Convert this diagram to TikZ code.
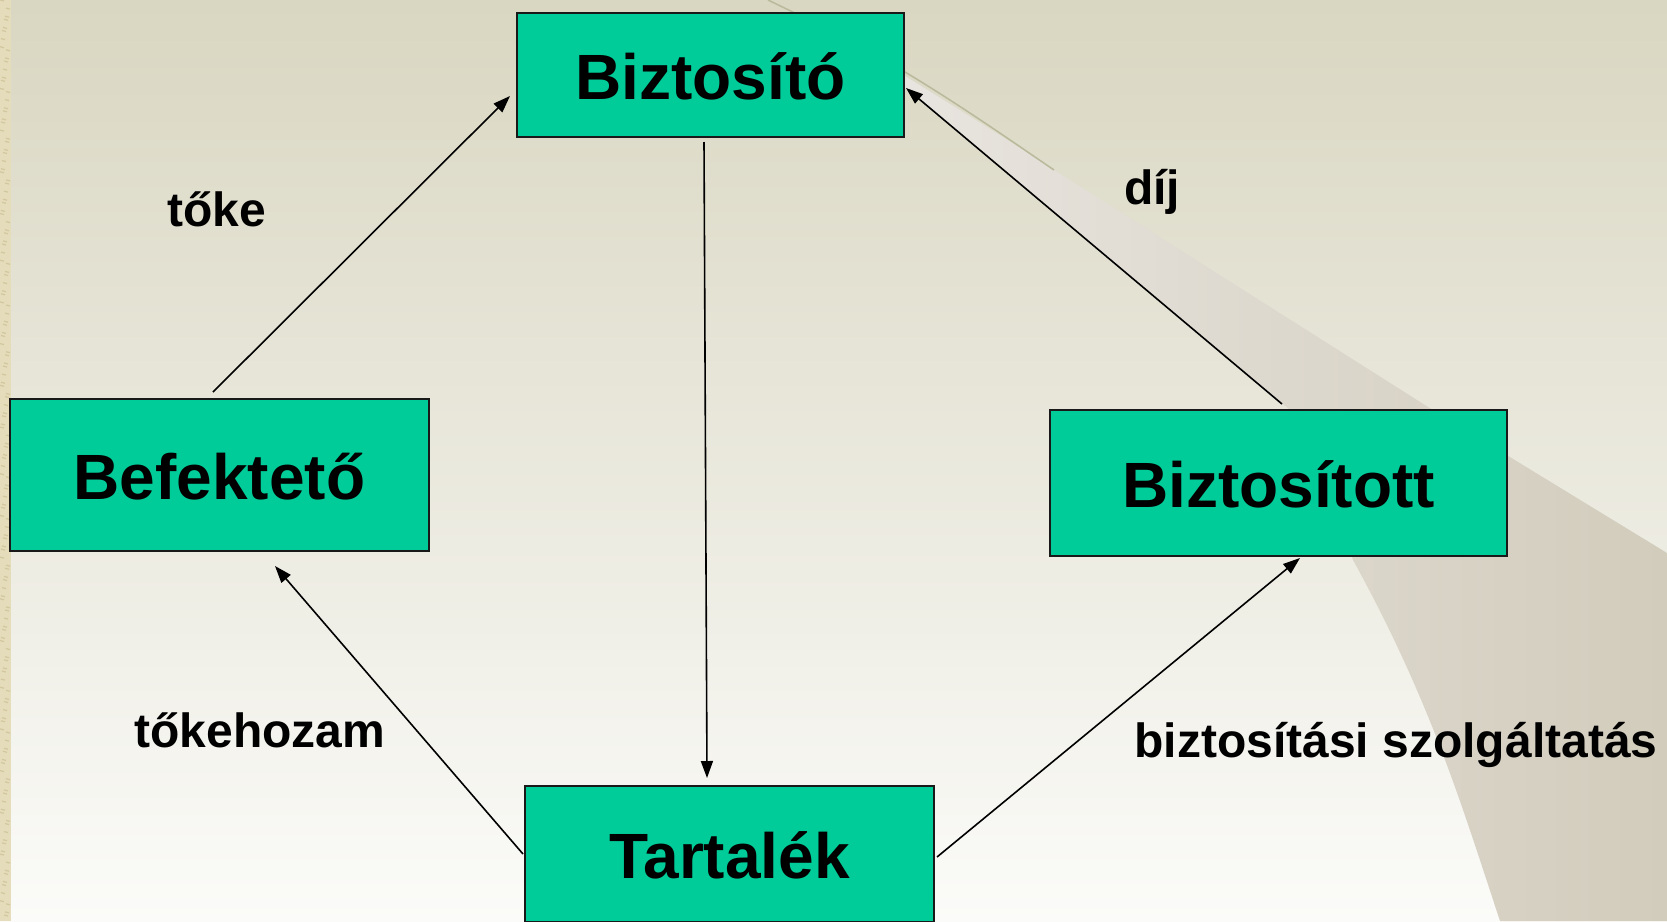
\documentclass[tikz,border=0pt]{standalone}
\usepackage{fontspec}
\setmainfont{Liberation Sans}
\usetikzlibrary{arrows.meta,calc}
\definecolor{boxgreen}{HTML}{00CC99}
\definecolor{bgtop}{HTML}{D9D6C1}
\definecolor{bgmid}{HTML}{E8E6DC}
\definecolor{bgbot}{HTML}{FBFBF9}
\definecolor{wedgeL}{HTML}{E8E4DF}
\definecolor{wedgeR}{HTML}{D2CCBC}
\definecolor{stripcol}{HTML}{E4DCBA}
\definecolor{stripdark}{HTML}{D2C79E}
\definecolor{oliveline}{HTML}{B9B99B}
\begin{document}
\begin{tikzpicture}[x=1pt,y=-1pt,
  box/.style={draw=black!90,line width=2pt,fill=boxgreen,inner sep=0pt,
    font=\fontsize{64}{70}\selectfont\bfseries,text height=48pt,text depth=0pt},
  lbl/.style={font=\fontsize{48}{54}\selectfont\bfseries,inner sep=0pt,anchor=base},
  arr/.style={line width=1.6pt,-{Triangle[length=17pt,width=12pt]}}]
\useasboundingbox (0,0) rectangle (1667,921);
% background
\shade[top color=bgtop,middle color=bgmid,bottom color=bgbot] (0,0) rectangle (1667,921);
% decorative wedge
\shade[left color=wedgeL,right color=wedgeR]
  (905,76) .. controls (960,110) and (1000,135) .. (1054,170) -- (1428,407) -- (1667,553)
  -- (1667,921) -- (1500,921) .. controls (1460,800) and (1430,700) .. (1353,560)
  .. controls (1330,490) and (1310,440) .. (1290,410) -- (905,88) -- cycle;
\draw[oliveline,line width=1.5pt] (768,0) .. controls (830,30) and (870,50) .. (905,72)
  .. controls (960,105) and (1010,140) .. (1054,170);
% left strip
\fill[stripcol] (0,0) rectangle (11,921);
\foreach \i in {0,...,150}{
  \pgfmathsetmacro{\yy}{\i*6.1+mod(\i*37,5)}
  \pgfmathsetmacro{\xx}{mod(\i*13,7)}
  \draw[stripdark,line width=1.2pt] (\xx,\yy) -- (\xx+4,\yy+1);
}
% boxes
\node[box,minimum width=387pt,minimum height=124pt] (bio) at (710.5,75) {Biztosító};
\node[box,minimum width=419pt,minimum height=152pt] (bef) at (219.5,475) {Befektető};
\node[box,minimum width=457pt,minimum height=146pt] (bzt) at (1278.5,483) {Biztosított};
\node[box,minimum width=409pt,minimum height=136pt] (tar) at (729.5,854) {Tartalék};
% connectors
\draw[arr] ($(bef.north)+(-6.5,-6)$) -- ($(bio.west)+(-6,21)$);
\draw[arr] ($(bio.south)+(-6.5,4)$) -- ($(tar.north)+(-22.5,-7)$);
\draw[arr] ($(bzt.north)+(3.5,-5)$) -- ($(bio.east)+(1,13)$);
\draw[arr] ($(tar.west)+(-1,0)$) -- ($(bef.south)+(55.5,14)$);
\draw[arr] ($(tar.east)+(2,3)$) -- ($(bzt.south)+(21.5,1)$);
% labels
\node[lbl] (ltoke) at (217,226.5) {tőke};
\node[lbl] (ldij) at (1152,204) {díj};
\node[lbl] (lhoz) at (260,747) {tőkehozam};
\node[lbl] (lszolg) at (1396,757) {biztosítási szolgáltatás};
\end{tikzpicture}
\end{document}
